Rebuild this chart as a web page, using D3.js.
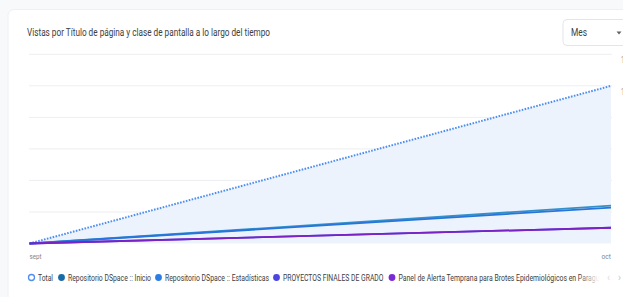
<!DOCTYPE html>
<html>
<head>
<meta charset="utf-8">
<script src="https://cdn.jsdelivr.net/npm/d3@7"></script>
<style>
  body { margin: 0; background: #f8f9fa; overflow: hidden; }
  text { font-family: Roboto, "Noto Sans", sans-serif; }
</style>
</head>
<body>
<script>
// data
const months = ["sept", "oct"];
const yTicks = [0, 2, 4, 6, 8, 10, 12];
const total = [0, 10];
const inicio = [0, 2.4];
const estadisticas = [0, 2.28];
const proyectos = [0, 1];
const panel = [0, 1];
const legendNames = ["Total", "Repositorio DSpace :: Inicio", "Repositorio DSpace :: Estadísticas",
  "PROYECTOS FINALES DE GRADO", "Panel de Alerta Temprana para Brotes Epidemiológicos en Paraguay"];

const w = 623, h = 297;
const svg = d3.select("body").append("svg").attr("width", w).attr("height", h);

// card
svg.append("rect").attr("width", w).attr("height", h).attr("fill", "#f8f9fa");
svg.append("rect").attr("x", 8).attr("y", 9.5).attr("width", 660).attr("height", 320)
  .attr("rx", 6).attr("fill", "#fff").attr("stroke", "#eef0f2");

svg.append("text").attr("x", 27).attr("y", 36).attr("font-size", 10).attr("fill", "#3c4043")
  .attr("textLength", 243).attr("lengthAdjust", "spacingAndGlyphs")
  .text("Vistas por Título de página y clase de pantalla a lo largo del tiempo");

// "Mes" dropdown
svg.append("rect").attr("x", 563).attr("y", 19.5).attr("width", 80).attr("height", 26).attr("rx", 4)
  .attr("fill", "#fff").attr("stroke", "#e3e5e8");
svg.append("text").attr("x", 571).attr("y", 36).attr("font-size", 10).attr("fill", "#3c4043")
  .attr("textLength", 16).attr("lengthAdjust", "spacingAndGlyphs").text("Mes");
svg.append("path").attr("d", "M616.5,31.5 L621.5,31.5 L619,34.5 Z").attr("fill", "#5f6368");

const x = d3.scalePoint().domain(months).range([29.5, 611]);
const y = d3.scaleLinear().domain([0, 12]).range([243.5, 54.3]);

// grid
svg.append("g").selectAll("line").data(yTicks.slice(1)).join("line")
  .attr("x1", 29).attr("x2", 612).attr("y1", d => y(d)).attr("y2", d => y(d))
  .attr("stroke", "#eceef1").attr("stroke-width", 1);

// right axis labels (clipped by the window edge, as in the reference)
const yAxis = d3.axisRight(y).tickValues(yTicks).tickSize(0).tickPadding(0);
const ya = svg.append("g").attr("transform", "translate(630,0)").call(yAxis);
ya.select(".domain").remove();
ya.selectAll("text").attr("text-anchor", "end").attr("dy", 8.5).attr("font-size", 8.5)
  .attr("fill", "#9aa0a6").attr("font-family", "Roboto");

// x axis labels
const xa = svg.append("g").attr("transform", "translate(0,259)");
xa.selectAll("text").data(months).join("text")
  .attr("x", (d, i) => i === 0 ? x(d) : x(d) - 9.5).attr("y", 0)
  .attr("font-size", 8).attr("fill", "#80868b").attr("textLength", d => d === "sept" ? 12 : 9.5)
  .attr("lengthAdjust", "spacingAndGlyphs").text(d => d);

// total area + dotted line
const area = d3.area().x((d, i) => x(months[i])).y0(y(0)).y1(d => y(d));
svg.append("path").datum(total).attr("d", area).attr("fill", "#edf3fd");
const line = d3.line().x((d, i) => x(months[i])).y(d => y(d));
svg.append("path").datum(total).attr("d", line).attr("fill", "none")
  .attr("stroke", "#4d8ef0").attr("stroke-width", 2).attr("stroke-dasharray", "1.6,1.4");

const series = [
  { v: inicio, c: "#3590c6" },
  { v: estadisticas, c: "#2774dc" },
  { v: proyectos, c: "#4b46e0" },
  { v: panel, c: "#7a22c4" }
];
series.forEach(s => {
  svg.append("path").datum(s.v).attr("d", line).attr("fill", "none")
    .attr("stroke", s.c).attr("stroke-width", 1.8);
});

// legend
const legendItems = [
  { x: 38, len: 15, c: "#4d8ef0", hollow: true },
  { x: 68, len: 83, c: "#1a6aa6" },
  { x: 165, len: 104, c: "#2b7de4" },
  { x: 283, len: 100.5, c: "#4b46e0" },
  { x: 398.5, len: 208, c: "#7b2bd6" }
];
const lg = svg.append("g");
legendItems.forEach((it, i) => {
  lg.append("circle").attr("cx", it.x - 6.5).attr("cy", 277.5).attr("r", it.hollow ? 3 : 3.4)
    .attr("fill", it.hollow ? "#fff" : it.c).attr("stroke", it.hollow ? it.c : "none")
    .attr("stroke-width", 1.3);
  lg.append("text").attr("x", it.x).attr("y", 280.5).attr("font-size", 8.5).attr("fill", "#3c4043")
    .attr("textLength", it.len).attr("lengthAdjust", "spacingAndGlyphs").text(legendNames[i]);
});
// fade out the overflowing legend
const grad = svg.append("defs").append("linearGradient").attr("id", "fade");
grad.append("stop").attr("offset", 0).attr("stop-color", "#fff").attr("stop-opacity", 0);
grad.append("stop").attr("offset", 1).attr("stop-color", "#fff").attr("stop-opacity", 1);
svg.append("rect").attr("x", 578).attr("y", 268).attr("width", 22).attr("height", 16).attr("fill", "url(#fade)");
svg.append("rect").attr("x", 600).attr("y", 268).attr("width", 30).attr("height", 16).attr("fill", "#fff");
svg.append("text").attr("x", 607).attr("y", 281).attr("font-size", 10).attr("fill", "#dadce0").text("‹");
svg.append("text").attr("x", 618).attr("y", 281).attr("font-size", 10).attr("fill", "#c4c7ca").text("›");
</script>
</body>
</html>
